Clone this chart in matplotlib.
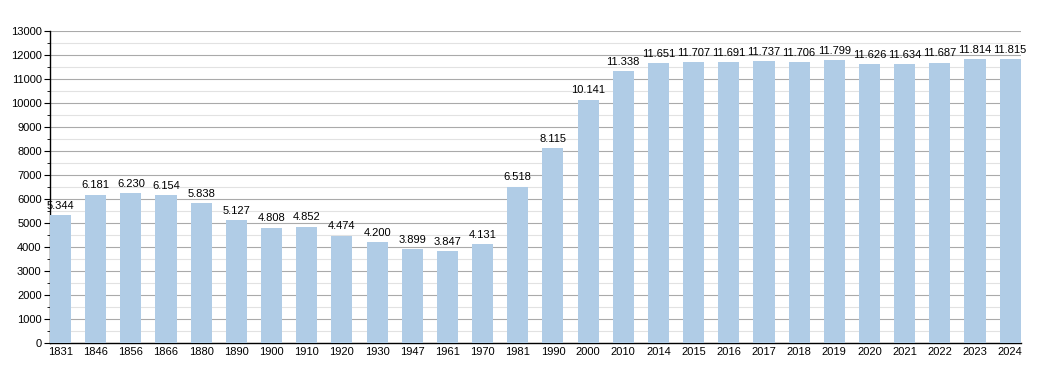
import matplotlib
matplotlib.use("Agg")
import matplotlib.pyplot as plt
from matplotlib.ticker import MultipleLocator

# Population per census year
years = ['1831', '1846', '1856', '1866', '1880', '1890', '1900', '1910', '1920', '1930',
         '1947', '1961', '1970', '1981', '1990', '2000', '2010', '2014', '2015', '2016',
         '2017', '2018', '2019', '2020', '2021', '2022', '2023', '2024']
population = [5344, 6181, 6230, 6154, 5838, 5127, 4808, 4852, 4474, 4200,
              3899, 3847, 4131, 6518, 8115, 10141, 11338, 11651, 11707, 11691,
              11737, 11706, 11799, 11626, 11634, 11687, 11814, 11815]

bar_colour = "#b0cce6"

plt.rcParams['font.family'] = ['Liberation Sans', 'DejaVu Sans']

fig = plt.figure(figsize=(10.5, 3.73), dpi=100)
ax = fig.add_axes([0.0476, 0.0804, 0.9245, 0.8365])

xs = list(range(len(years)))
ax.bar(xs, population, width=0.6, color=bar_colour, zorder=3)

# value labels with dot as thousands separator
for x, v in zip(xs, population):
    ax.annotate(f"{v:,}".replace(",", "."), (x, v), textcoords="offset points",
                xytext=(0, 3), ha='center', va='bottom', fontsize=8, zorder=4)

ax.set_xlim(-0.3, len(years) - 0.7)
ax.set_ylim(0, 13000)
ax.set_xticks(xs)
ax.set_xticklabels(years, fontsize=8)
ax.tick_params(axis='x', length=0, pad=3)

ax.yaxis.set_major_locator(MultipleLocator(1000))
ax.yaxis.set_minor_locator(MultipleLocator(500))
ax.tick_params(axis='y', which='major', length=4, labelsize=8, pad=2)
ax.tick_params(axis='y', which='minor', length=2)

ax.grid(axis='y', which='major', color='#aaaaaa', linewidth=0.8, zorder=0)
ax.grid(axis='y', which='minor', color='#e2e2e2', linewidth=0.8, zorder=0)

ax.spines['top'].set_visible(False)
ax.spines['right'].set_visible(False)
ax.spines['left'].set_linewidth(1.0)
ax.spines['bottom'].set_linewidth(1.0)

fig.savefig("out.png", dpi=100)
